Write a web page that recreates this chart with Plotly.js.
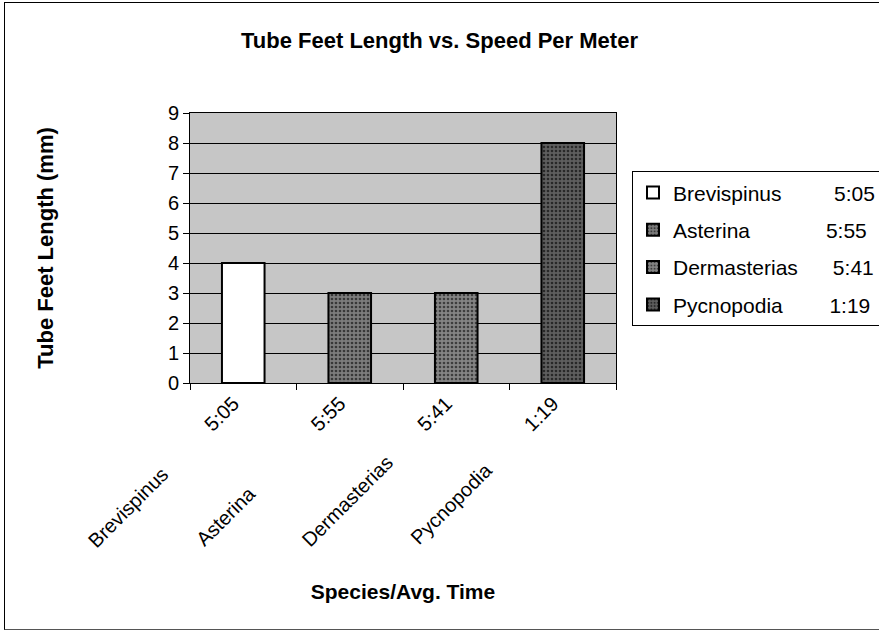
<!DOCTYPE html>
<html>
<head>
<meta charset="utf-8">
<script src="https://cdn.plot.ly/plotly-3.0.1.min.js"></script>
<style>
  html, body { margin: 0; padding: 0; background: #ffffff; overflow: hidden; }
  #wrap { position: relative; width: 879px; height: 637px; overflow: hidden; }
  #chart { width: 879px; height: 637px; }
  #frame { position: absolute; left: 4px; top: 2px; width: 1000px; height: 628px;
           border-left: 1px solid #000; border-top: 1px solid #000; border-bottom: 1px solid #555;
           pointer-events: none; box-sizing: border-box; }
</style>
</head>
<body>
<div id="wrap">
  <div id="chart"></div>
  <div id="frame"></div>
</div>
<script>
// ---- data ----
const species = ["Brevispinus", "Asterina", "Dermasterias", "Pycnopodia"];
const avgTimes = ["5:05", "5:55", "5:41", "1:19"];
const tubeFeetLength = [4, 3, 3, 8];
const yTicks = [0, 1, 2, 3, 4, 5, 6, 7, 8, 9];

// ---- styling ----
const tickPad = [11, 16, 8, 10];          // emulates the tab gap in the axis labels
const legendPad = [9, 13, 6, 8];          // emulates the tab gap in the legend
const barFill = ["#ffffff", "#7c7c7c", "#848484", "#5e5e5e"];
const dotColor = ["#ffffff", "#383838", "#3e3e3e", "#282828"];
const FONT = "Liberation Sans, Arial, sans-serif";

const nb = n => "\u00A0".repeat(n);
const catLabels = species.map((s, i) => s + nb(tickPad[i]) + avgTimes[i]);
const legendNames = species.map((s, i) => s + nb(legendPad[i]) + avgTimes[i]);

const traces = species.map((s, i) => ({
  type: "bar",
  x: [catLabels[i]],
  y: [tubeFeetLength[i]],
  name: legendNames[i],
  legendgroup: "g" + i,
  marker: {
    color: barFill[i],
    line: { color: "#000000", width: 2 },
    pattern: i === 0 ? { shape: "" } :
      { shape: ".", fgcolor: dotColor[i], bgcolor: barFill[i], size: 4, solidity: 0.35 }
  },
  hoverinfo: "x+y"
}));

const layout = {
  width: 879,
  height: 637,
  margin: { l: 190, r: 263, t: 113, b: 254, autoexpand: false },
  paper_bgcolor: "#ffffff",
  plot_bgcolor: "#c6c6c6",
  font: { family: FONT, color: "#000000", size: 19 },
  title: {
    text: "<b>Tube Feet Length vs. Speed Per Meter</b>",
    font: { family: FONT, size: 22, color: "#000000" },
    x: 0.5, xref: "container", xanchor: "center",
    y: 0.937, yref: "container", yanchor: "middle"
  },
  barmode: "overlay",
  bargap: 0.6,
  showlegend: true,
  legend: {
    xref: "container", yref: "container",
    x: 0.719, xanchor: "left",
    y: 0.731, yanchor: "top",
    bgcolor: "#ffffff",
    bordercolor: "#000000",
    borderwidth: 1,
    font: { family: FONT, size: 21, color: "#000000" },
    tracegroupgap: 7,
    itemwidth: 30,
    traceorder: "grouped"
  },
  xaxis: {
    type: "category",
    categoryorder: "array",
    categoryarray: catLabels,
    tickangle: -45,
    tickson: "boundaries",
    ticks: "outside",
    ticklen: 6,
    tickcolor: "#000000",
    tickfont: { family: FONT, size: 20 },
    ticklabelshift: -10,
    showline: true, linecolor: "#000000", linewidth: 1, mirror: true,
    showgrid: false,
    zeroline: false,
    automargin: false,
    title: {
      text: "<b>Species/Avg. Time</b>",
      font: { family: FONT, size: 21 },
      standoff: 33
    }
  },
  yaxis: {
    range: [0, 9],
    tickvals: yTicks,
    ticktext: yTicks.map(String),
    ticks: "outside",
    ticklen: 6,
    tickcolor: "#000000",
    tickfont: { family: FONT, size: 20 },
    showline: true, linecolor: "#000000", linewidth: 1, mirror: true,
    showgrid: true, gridcolor: "#000000", gridwidth: 1,
    zeroline: false,
    automargin: false,
    title: {
      text: "<b>Tube Feet Length (mm)</b>",
      font: { family: FONT, size: 22 },
      standoff: 108
    }
  }
};

Plotly.newPlot("chart", traces, layout, { displayModeBar: false, staticPlot: true });
</script>
</body>
</html>
